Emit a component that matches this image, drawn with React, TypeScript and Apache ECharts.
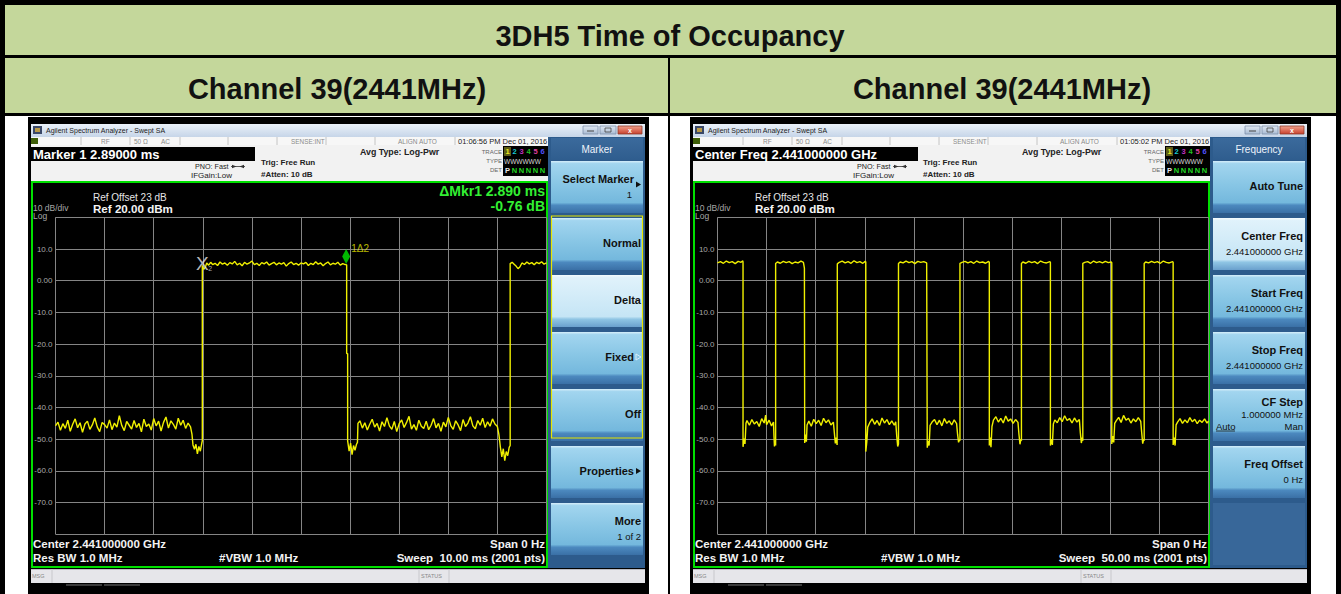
import React, { useEffect, useRef } from "react";
import * as echarts from "echarts";

const W = 1341;
const H = 594;
const FONT = '"Liberation Sans", Arial, Helvetica, sans-serif';

// ---------- texts ----------
const titleText = "3DH5 Time of Occupancy";
const channelLabels = ["Channel 39(2441MHz)", "Channel 39(2441MHz)"];

// ---------- axes ----------
const yTicks = [20, 10, 0, -10, -20, -30, -40, -50, -60, -70, -80];
const yTickLabels = ["", "10.0", "0.00", "-10.0", "-20.0", "-30.0", "-40.0", "-50.0", "-60.0", "-70.0", ""];
const sweepMs = [10, 50];
const xIntervals = [1, 5];

// ---------- traces (time ms, level dBm) ----------
const leftTrace: [number, number][] = [
  [0, -45.8], [0.05, -44.6], [0.1, -47.2], [0.15, -45.1], [0.2, -46.6], [0.25, -44.0], [0.3, -47.5], [0.35, -45.3], [0.4, -43.6], [0.45, -46.4],
  [0.5, -44.8], [0.55, -47.8], [0.6, -45.2], [0.65, -44.3], [0.7, -46.9], [0.75, -45.5], [0.8, -43.3], [0.85, -46.1], [0.9, -47.6], [0.95, -44.7],
  [1.0, -45.4], [1.05, -46.5], [1.1, -43.9], [1.15, -47.0], [1.2, -44.9], [1.25, -46.2], [1.3, -42.6], [1.35, -45.7], [1.4, -47.3], [1.45, -44.4],
  [1.5, -45.6], [1.55, -46.8], [1.6, -44.1], [1.65, -46.3], [1.7, -45.0], [1.75, -47.7], [1.8, -43.7], [1.85, -46.0], [1.9, -45.2], [1.95, -47.1],
  [2.0, -43.5], [2.05, -45.8], [2.1, -44.3], [2.15, -47.4], [2.2, -44.7], [2.25, -43.0], [2.3, -46.5], [2.35, -44.2], [2.4, -45.3], [2.45, -46.8],
  [2.5, -43.4], [2.55, -45.6], [2.6, -44.0], [2.65, -46.6], [2.7, -44.9], [2.75, -46.1],
  [2.78, -48.5], [2.8, -51.8], [2.83, -53.2], [2.86, -51.6], [2.89, -54.6], [2.92, -52.3], [2.95, -53.8], [2.98, -51.2],
  [2.99, -50.5], [2.99, 4.8],
  [3.02, 3.6], [3.05, 4.2], [3.08, 5.6], [3.12, 4.9], [3.16, 5.8], [3.2, 5.1], [3.25, 5.5], [3.3, 4.8], [3.35, 5.9], [3.4, 5.2],
  [3.45, 5.6], [3.5, 4.9], [3.55, 5.7], [3.6, 5.3], [3.65, 6.1], [3.7, 5.0], [3.75, 5.5], [3.8, 4.7], [3.85, 5.8], [3.9, 5.2],
  [3.95, 5.6], [4.0, 6.2], [4.05, 5.1], [4.1, 5.5], [4.15, 4.8], [4.2, 5.7], [4.25, 5.3], [4.3, 5.9], [4.35, 4.9], [4.4, 5.4],
  [4.45, 5.8], [4.5, 5.0], [4.55, 5.6], [4.6, 5.2], [4.65, 5.7], [4.7, 4.6], [4.75, 5.4], [4.8, 5.9], [4.85, 5.1], [4.9, 5.5],
  [4.95, 4.9], [5.0, 5.6], [5.05, 5.3], [5.1, 5.8], [5.15, 4.8], [5.2, 5.5], [5.25, 5.1], [5.3, 6.0], [5.35, 5.2], [5.4, 5.6],
  [5.45, 4.7], [5.5, 5.4], [5.55, 5.9], [5.6, 5.0], [5.65, 5.5], [5.7, 5.2], [5.75, 5.8], [5.8, 4.9], [5.85, 5.4], [5.9, 5.1],
  [5.93, 5.0], [5.93, -23.0], [5.95, -23.0], [5.95, -50.5],
  [5.98, -53.8], [6.01, -51.2], [6.04, -54.9], [6.07, -52.0], [6.1, -53.5], [6.13, -51.6], [6.15, -51.0], [6.16, -45.0],
  [6.2, -44.2], [6.25, -46.5], [6.3, -44.8], [6.35, -47.1], [6.4, -45.3], [6.45, -43.7], [6.5, -46.2], [6.55, -45.0], [6.6, -47.4], [6.65, -44.5],
  [6.7, -46.0], [6.75, -43.2], [6.8, -45.8], [6.85, -46.9], [6.9, -44.4], [6.95, -47.6], [7.0, -45.1], [7.05, -43.9], [7.1, -46.3], [7.15, -44.7],
  [7.2, -42.8], [7.25, -46.8], [7.3, -45.4], [7.35, -47.2], [7.4, -44.0], [7.45, -45.9], [7.5, -46.6], [7.55, -44.3], [7.6, -47.0], [7.65, -45.6],
  [7.7, -43.5], [7.75, -46.4], [7.8, -45.0], [7.85, -47.5], [7.9, -44.6], [7.95, -46.1], [8.0, -43.1], [8.05, -45.7], [8.1, -46.9], [8.15, -44.2],
  [8.2, -45.5], [8.25, -47.3], [8.3, -43.8], [8.35, -46.0], [8.4, -44.9], [8.45, -42.9], [8.5, -45.8], [8.55, -46.7], [8.6, -44.1], [8.65, -45.6],
  [8.7, -43.4], [8.75, -46.3], [8.8, -44.5], [8.85, -45.9], [8.9, -43.6], [8.95, -45.2], [9.0, -46.0],
  [9.03, -48.5], [9.06, -52.4], [9.09, -55.6], [9.12, -53.0], [9.15, -56.8], [9.18, -53.9], [9.21, -55.2], [9.24, -52.6],
  [9.26, -52.0], [9.26, 5.4],
  [9.3, 5.8], [9.34, 5.2], [9.38, 4.6], [9.42, 3.8], [9.46, 4.4], [9.5, 5.6], [9.55, 5.1], [9.6, 5.9], [9.65, 5.3], [9.7, 5.7],
  [9.75, 5.0], [9.8, 5.8], [9.85, 5.4], [9.9, 6.0], [9.95, 5.2], [10.0, 5.6],
];

const rightTrace: [number, number][] = [
  [0, 5.6], [0.3, 6.0], [0.6, 5.5], [0.9, 6.2], [1.2, 5.7], [1.5, 6.0], [1.8, 5.4], [2.1, 6.1], [2.4, 5.8], [2.58, 6.3],
  [2.6, 5.8], [2.6, -52.4], [2.7, -49.8], [2.8, -51.5], [2.9, -45.0],
  [3.0, -44.1], [3.25, -45.6], [3.5, -43.8], [3.75, -45.2], [4.0, -44.4], [4.25, -46.0], [4.5, -43.5], [4.75, -44.9], [4.9, -42.4], [5.0, -45.4],
  [5.25, -44.0], [5.5, -45.8], [5.7, -44.6], [5.75, -49.0], [5.8, -52.3], [5.88, -50.5], [5.92, -52.0], [5.92, 5.4],
  [6.1, 5.9], [6.4, 5.5], [6.7, 6.1], [7.0, 5.7], [7.3, 6.0], [7.6, 5.4], [7.9, 5.9], [8.2, 5.6], [8.5, 6.2], [8.75, 5.8], [8.85, 4.0],
  [8.88, 4.0], [8.88, -51.2], [8.95, -48.5], [9.05, -50.8], [9.12, -45.5],
  [9.3, -44.3], [9.55, -45.9], [9.8, -43.7], [10.05, -45.1], [10.3, -44.0], [10.55, -45.7], [10.8, -43.4], [11.05, -44.8], [11.3, -43.9], [11.55, -45.5], [11.8, -44.6],
  [11.9, -48.0], [12.0, -51.3], [12.1, -49.5], [12.18, -51.8], [12.2, -51.8], [12.2, 5.3],
  [12.4, 5.8], [12.7, 6.2], [13.0, 5.6], [13.3, 6.0], [13.6, 5.5], [13.9, 6.3], [14.2, 5.7], [14.5, 6.0], [14.8, 5.5], [15.05, 6.1],
  [15.1, 5.9], [15.1, -53.9], [15.2, -51.0], [15.3, -46.2],
  [15.5, -44.8], [15.75, -43.6], [16.0, -45.3], [16.25, -44.1], [16.5, -45.7], [16.75, -43.3], [17.0, -44.9], [17.25, -43.8], [17.5, -45.4], [17.75, -44.2], [18.0, -45.6], [18.15, -44.5],
  [18.25, -49.0], [18.35, -52.3], [18.43, -51.5], [18.43, 5.4],
  [18.6, 5.9], [18.9, 5.6], [19.2, 6.2], [19.5, 5.7], [19.8, 6.0], [20.1, 5.4], [20.4, 6.1], [20.7, 5.8], [21.0, 6.0], [21.3, 5.6],
  [21.36, 5.6], [21.36, -52.7], [21.45, -50.6], [21.55, -52.0], [21.65, -45.6],
  [21.85, -44.6], [22.1, -43.8], [22.35, -45.4], [22.6, -44.0], [22.85, -45.8], [23.1, -43.5], [23.35, -45.0], [23.6, -44.2], [23.85, -45.5], [24.1, -43.9], [24.35, -45.1],
  [24.45, -48.5], [24.55, -51.0], [24.65, -50.2], [24.69, -50.5], [24.69, 5.5],
  [24.9, 5.8], [25.2, 6.1], [25.5, 5.6], [25.8, 6.0], [26.1, 5.5], [26.4, 6.2], [26.7, 5.7], [27.0, 5.9], [27.3, 5.5], [27.6, 6.1],
  [27.68, 5.8], [27.68, -52.0], [27.75, -49.5], [27.85, -52.5], [27.95, -46.0],
  [28.1, -44.0], [28.35, -42.9], [28.6, -44.6], [28.85, -43.4], [29.1, -44.9], [29.35, -42.7], [29.6, -44.3], [29.85, -43.6], [30.1, -45.0], [30.35, -43.8], [30.6, -44.7],
  [30.7, -48.5], [30.8, -51.6], [30.9, -50.0], [30.95, -50.5], [30.95, 5.4],
  [31.1, 5.9], [31.4, 5.5], [31.7, 6.1], [32.0, 5.7], [32.3, 6.0], [32.6, 5.4], [32.9, 6.2], [33.2, 5.8], [33.5, 5.6], [33.85, 6.0],
  [33.9, 5.8], [33.9, -52.0], [34.0, -50.0], [34.1, -51.8], [34.2, -45.2],
  [34.35, -43.9], [34.6, -44.8], [34.85, -43.2], [35.1, -44.5], [35.35, -42.6], [35.6, -44.1], [35.85, -43.5], [36.1, -44.9], [36.35, -43.3], [36.6, -44.6], [36.85, -43.8],
  [36.95, -48.0], [37.05, -51.2], [37.15, -49.5], [37.2, -50.5], [37.2, 5.5],
  [37.4, 5.8], [37.7, 6.0], [38.0, 5.5], [38.3, 6.2], [38.6, 5.7], [38.9, 6.0], [39.2, 5.6], [39.5, 6.1], [39.8, 5.7], [40.1, 5.9],
  [40.15, 5.7], [40.15, -51.5], [40.25, -49.0], [40.35, -51.0], [40.45, -45.0],
  [40.6, -44.2], [40.85, -43.1], [41.1, -44.7], [41.35, -42.5], [41.6, -44.0], [41.85, -43.4], [42.1, -44.9], [42.35, -43.6], [42.6, -44.5], [42.85, -43.2], [43.1, -44.4],
  [43.2, -48.0], [43.3, -51.4], [43.4, -50.0], [43.45, -50.5], [43.45, 5.4],
  [43.6, 5.9], [43.9, 5.6], [44.2, 6.1], [44.5, 5.7], [44.8, 6.0], [45.1, 5.5], [45.4, 6.2], [45.7, 5.8], [46.0, 5.6], [46.35, 6.0],
  [46.4, 5.8], [46.4, -51.8], [46.5, -49.5], [46.6, -52.0], [46.7, -45.5],
  [46.85, -44.6], [47.1, -43.5], [47.35, -45.0], [47.6, -43.9], [47.85, -44.8], [48.1, -43.2], [48.35, -44.5], [48.6, -43.7], [48.85, -45.1], [49.1, -44.0],
  [49.35, -44.7], [49.6, -43.6], [49.85, -44.9], [50.0, -44.3],
];

// markers (left screen)
const marker2Pos: [number, number][] = [[2.99, 5.4]];
const marker1Pos: [number, number][] = [[5.92, 5.3]];

// ---------- screen texts ----------
type Key = { label: string; sub?: string; selected?: boolean; arrow?: "solid" | "hollow"; autoMan?: boolean };
type Screen = {
  dx: number;
  active: string;
  activeBox: number;
  date: string;
  sweep: string;
  panel: string;
  keys: Key[];
  delta?: [string, string];
  group?: boolean;
};

const screens: Screen[] = [
  {
    dx: 0,
    active: "Marker 1 2.89000 ms",
    activeBox: 224,
    date: "01:06:56 PM Dec 01, 2016",
    sweep: "Sweep  10.00 ms (2001 pts)",
    panel: "Marker",
    delta: ["\u0394Mkr1 2.890 ms", "-0.76 dB"],
    group: true,
    keys: [
      { label: "Select Marker", sub: "1", arrow: "solid" },
      { label: "Normal" },
      { label: "Delta", selected: true },
      { label: "Fixed", arrow: "hollow" },
      { label: "Off" },
      { label: "Properties", arrow: "solid" },
      { label: "More", sub: "1 of 2" },
    ],
  },
  {
    dx: 662,
    active: "Center Freq 2.441000000 GHz",
    activeBox: 225,
    date: "01:05:02 PM Dec 01, 2016",
    sweep: "Sweep  50.00 ms (2001 pts)",
    panel: "Frequency",
    keys: [
      { label: "Auto Tune" },
      { label: "Center Freq", sub: "2.441000000 GHz", selected: true },
      { label: "Start Freq", sub: "2.441000000 GHz" },
      { label: "Stop Freq", sub: "2.441000000 GHz" },
      { label: "CF Step", sub: "1.000000 MHz", autoMan: true },
      { label: "Freq Offset", sub: "0 Hz" },
    ],
  },
];

function lg(stops: [number, string][]) {
  return new echarts.graphic.LinearGradient(0, 0, 0, 1, stops.map(([offset, color]) => ({ offset, color })));
}

function text(x: number, y: number, t: string, size: number, fill: string, weight = "normal", align = "left", z = 10) {
  return {
    type: "text",
    z,
    silent: true,
    x,
    y,
    style: {
      text: t,
      fill,
      font: `${weight} ${size}px ${FONT}`,
      textAlign: align,
      align,
      textVerticalAlign: "middle",
      verticalAlign: "middle",
    },
  };
}

function rect(x: number, y: number, w: number, h: number, fill: any, z = -1, stroke?: string, lw?: number) {
  const style: any = { fill };
  if (stroke) {
    style.stroke = stroke;
    style.lineWidth = lw ?? 1;
  }
  return { type: "rect", z, silent: true, shape: { x, y, width: w, height: h }, style };
}

function line(x1: number, y1: number, x2: number, y2: number, stroke: string, lw = 1, z = -1) {
  return { type: "line", z, silent: true, shape: { x1, y1, x2, y2 }, style: { stroke, lineWidth: lw } };
}

function poly(points: number[][], fill: string, z = 10, stroke?: string) {
  const style: any = { fill };
  if (stroke) {
    style.stroke = stroke;
    style.lineWidth = 1;
  }
  return { type: "polygon", z, silent: true, shape: { points }, style };
}

function buildScreen(s: Screen): any[] {
  const d = s.dx;
  const e: any[] = [];
  // frame
  e.push(rect(28 + d, 117, 621, 477, "#000"));
  // title bar
  e.push(rect(31 + d, 124, 614, 13, lg([[0, "#eaf1f9"], [1, "#c6d5e8"]])));
  e.push(rect(33 + d, 126, 9, 8, "#3a4868"));
  e.push(rect(35 + d, 128, 5, 4, "#b89a48"));
  e.push(text(46 + d, 130.5, "Agilent Spectrum Analyzer - Swept SA", 7, "#1c1c1c"));
  e.push(rect(583 + d, 126, 15, 8, lg([[0, "#dfe7f2"], [1, "#a9bbd3"]]), -1, "#7d8fab", 0.8));
  e.push(rect(600 + d, 126, 16, 8, lg([[0, "#dfe7f2"], [1, "#a9bbd3"]]), -1, "#7d8fab", 0.8));
  e.push(rect(618 + d, 126, 24, 8, lg([[0, "#f0a08c"], [1, "#c8412e"]]), -1, "#8e3a2c", 0.8));
  e.push(line(587 + d, 131, 594 + d, 131, "#444", 1, 0));
  e.push(rect(605 + d, 128, 6, 4, "none", 0, "#444", 0.8));
  e.push(text(630 + d, 130, "x", 7, "#fff", "bold", "center"));
  // status row
  e.push(rect(31 + d, 137, 517, 8, "#f7f7f7"));
  e.push(rect(31 + d, 138, 7, 6, "#3e5e08"));
  [81, 130, 180, 228, 277, 326, 375, 455].forEach((x) => e.push(line(x + d, 137, x + d, 145, "#c4c4c4")));
  e.push(text(101 + d, 141.5, "RF", 6.5, "#8a8a8a"));
  e.push(text(134 + d, 141.5, "50 \u03a9", 6.5, "#8a8a8a"));
  e.push(text(161 + d, 141.5, "AC", 6.5, "#8a8a8a"));
  e.push(text(291 + d, 141.5, "SENSE:INT", 6.4, "#8a8a8a"));
  e.push(text(398 + d, 141.5, "ALIGN AUTO", 6.5, "#8a8a8a"));
  e.push(text(458 + d, 141.5, s.date, 7.5, "#222"));
  // header area
  e.push(rect(31 + d, 145, 517, 37, "#f2f2f2"));
  e.push(rect(31 + d, 147, s.activeBox, 14, "#000"));
  e.push(text(33 + d, 154.5, s.active, 13, "#fff", "bold"));
  e.push(text(195 + d, 166.5, "PNO: Fast", 7.2, "#222"));
  e.push(text(191 + d, 175.5, "IFGain:Low", 8, "#222"));
  e.push(line(231 + d, 166.5, 245 + d, 166.5, "#333", 0.8, 0));
  e.push(poly([[232 + d, 164.8], [236.5 + d, 166.5], [232 + d, 168.2]], "#333", 1));
  e.push(poly([[244 + d, 164.8], [239.5 + d, 166.5], [244 + d, 168.2]], "#333", 1));
  e.push(text(261 + d, 162.5, "Trig: Free Run", 8, "#222", "bold"));
  e.push(text(261 + d, 174, "#Atten: 10 dB", 8, "#222", "bold"));
  e.push(text(360 + d, 151.5, "Avg Type: Log-Pwr", 8.8, "#222", "bold"));
  // trace box
  e.push(text(502 + d, 151.5, "TRACE", 6, "#666", "normal", "right"));
  e.push(text(502 + d, 161, "TYPE", 6, "#666", "normal", "right"));
  e.push(text(502 + d, 170, "DET", 6, "#666", "normal", "right"));
  e.push(rect(503 + d, 146, 45, 30, "#000"));
  e.push(rect(504 + d, 147, 7, 9, "#5b5b16"));
  const tc = ["#e8e820", "#19c8d2", "#c030c0", "#22c022", "#e040a0", "#5050ff"];
  tc.forEach((c, i) => e.push(text(507.5 + d + i * 7, 151.5, String(i + 1), 7.5, c, "bold", "center")));
  e.push(text(504 + d, 161, "WWWWWW", 6.5, "#d8d8d8"));
  e.push(text(507.5 + d, 170.5, "P", 7.5, "#e8e8e8", "bold", "center"));
  for (let i = 1; i < 6; i++) e.push(text(507.5 + d + i * 7, 170.5, "N", 7.5, "#22d822", "bold", "center"));

  // plot area
  e.push(rect(32 + d, 182, 515, 385, "#000", -1, "#00e000", 2));
  e.push(text(93 + d, 197.5, "Ref Offset 23 dB", 10, "#e6e6e6"));
  e.push(text(93 + d, 208, "Ref 20.00 dBm", 11.6, "#f4f4f4", "bold"));
  e.push(text(33 + d, 207.5, "10 dB/div", 8.5, "#a8a8a8"));
  e.push(text(33 + d, 215.5, "Log", 8.5, "#a8a8a8"));
  if (s.delta) {
    e.push(text(545 + d, 190.5, s.delta[0], 14, "#33f033", "bold", "right"));
    e.push(text(545 + d, 205.5, s.delta[1], 14, "#33f033", "bold", "right"));
  }
  e.push(text(33 + d, 543.5, "Center 2.441000000 GHz", 11.5, "#f2f2f2", "bold"));
  e.push(text(33 + d, 557.5, "Res BW 1.0 MHz", 11.5, "#f2f2f2", "bold"));
  e.push(text(219 + d, 557.5, "#VBW 1.0 MHz", 11.5, "#f2f2f2", "bold"));
  e.push(text(545 + d, 543.5, "Span 0 Hz", 11.5, "#f2f2f2", "bold", "right"));
  e.push(text(545 + d, 557.5, s.sweep, 11.5, "#f2f2f2", "bold", "right"));

  // MSG bar
  e.push(rect(31 + d, 569, 614, 14, "#e6e6ea"));
  e.push(line(31 + d, 569.5, 645 + d, 569.5, "#bdbdc4"));
  e.push(line(52 + d, 569, 52 + d, 583, "#c8c8cc"));
  e.push(line(419 + d, 569, 419 + d, 583, "#c8c8cc"));
  e.push(line(449 + d, 569, 449 + d, 583, "#c8c8cc"));
  e.push(text(32 + d, 576, "MSG", 5.5, "#888"));
  e.push(text(421 + d, 576, "STATUS", 5.5, "#888"));
  e.push(rect(66 + d, 584, 36, 2, "#3a3a3a"));
  e.push(rect(104 + d, 584, 36, 2, "#3a3a3a"));

  // softkey panel
  e.push(rect(548 + d, 137, 97, 431, "#2d5b8c"));
  e.push(rect(551 + d, 138, 92, 22, lg([[0, "#3b6a9c"], [1, "#2f5d8e"]])));
  e.push(text(597 + d, 149, s.panel, 10, "#eef4fb", "normal", "center"));
  const normalFill = () =>
    lg([[0, "#d6eefa"], [0.05, "#a2d5ef"], [0.45, "#88c6e5"], [0.8, "#74b8dd"], [0.85, "#4c89bf"], [1, "#3a70a6"]]);
  const selFill = () =>
    lg([[0, "#f4fbfe"], [0.05, "#e0f2fb"], [0.8, "#c5e5f5"], [0.85, "#8fc5e4"], [1, "#6aa0cd"]]);
  s.keys.forEach((k, i) => {
    const top = 161 + 57 * i;
    e.push(rect(551 + d, top, 92, 52, k.selected ? selFill() : normalFill()));
    const rx = 641 + d;
    const ax = k.arrow ? rx - 7 : rx;
    if (k.autoMan) {
      e.push(text(rx, top + 13, k.label, 11, "#111", "bold", "right"));
      e.push(text(rx, top + 25, k.sub!, 9.5, "#111", "normal", "right"));
      e.push(text(554 + d, top + 37, "Auto", 9.5, "#111"));
      e.push(line(554 + d, top + 42, 573 + d, top + 42, "#111", 0.8, 10));
      e.push(text(rx, top + 37, "Man", 9.5, "#111", "normal", "right"));
    } else if (k.sub) {
      e.push(text(ax, top + 18, k.label, 11, "#111", "bold", "right"));
      e.push(text(rx - (k.arrow ? 9 : 0), top + 33, k.sub, 9.5, "#111", "normal", "right"));
    } else {
      e.push(text(ax, top + 25, k.label, 11, "#111", "bold", "right"));
    }
    if (k.arrow === "solid") {
      const cy = k.sub ? top + 23.5 : top + 25;
      e.push(poly([[636 + d, cy - 3], [641 + d, cy], [636 + d, cy + 3]], "#111"));
    } else if (k.arrow === "hollow") {
      const cy = top + 25;
      e.push(poly([[636 + d, cy - 3], [641 + d, cy], [636 + d, cy + 3]], "none", 10, "#d8ecf7"));
    }
  });
  if (s.keys.length < 7) {
    const top = 161 + 57 * s.keys.length;
    e.push(rect(551 + d, top, 92, 565 - top, "#386799"));
  }
  if (s.group) {
    e.push(rect(551.5 + d, 216, 91, 222, "none", 5, "#e6e600", 1.2));
  }
  return e;
}

function buildOption() {
  const g: any[] = [];
  // table
  g.push(rect(0, 0, W, H, "#ffffff", -3));
  g.push(rect(5, 5, 1331, 50, "#c4d79b", -2));
  g.push(rect(5, 58, 1331, 55, "#c4d79b", -2));
  g.push(rect(0, 0, W, 5, "#000", -2));
  g.push(rect(0, 0, 5, H, "#000", -2));
  g.push(rect(1336, 0, 5, H, "#000", -2));
  g.push(rect(0, 55, W, 3, "#000", -2));
  g.push(rect(0, 113, W, 3, "#000", -2));
  g.push(rect(668, 58, 2, H - 58, "#000", -2));
  g.push(text(670, 36, titleText, 29, "#111", "bold", "center"));
  g.push(text(337, 89, channelLabels[0], 29, "#111", "bold", "center"));
  g.push(text(1002, 89, channelLabels[1], 29, "#111", "bold", "center"));
  screens.forEach((s) => g.push(...buildScreen(s)));

  const grids = screens.map((s) => ({ left: 55.5 + s.dx, top: 217.3, width: 491, height: 317, show: false }));
  const xAxis = sweepMs.map((max, i) => ({
    type: "value",
    gridIndex: i,
    min: 0,
    max,
    interval: xIntervals[i],
    axisLine: { show: false },
    axisTick: { show: false },
    axisLabel: { show: false },
    splitLine: { show: true, lineStyle: { color: "#858585", width: 1 } },
  }));
  const yAxis = sweepMs.map((_, i) => ({
    type: "value",
    gridIndex: i,
    min: -80,
    max: 20,
    interval: 10,
    axisLine: { show: false },
    axisTick: { show: false },
    axisLabel: {
      show: true,
      margin: 3,
      color: "#a8a8a8",
      fontSize: 8,
      fontFamily: FONT,
      formatter: (v: number) => {
        const k = yTicks.indexOf(Math.round(v));
        return k >= 0 ? yTickLabels[k] : "";
      },
    },
    splitLine: { show: true, lineStyle: { color: "#858585", width: 1 } },
  }));
  const traceStyle = { color: "#f0f000", width: 1.4 };
  const transparent = { color: "rgba(0,0,0,0)" };
  return {
    animation: false,
    backgroundColor: "#ffffff",
    graphic: { elements: g },
    grid: grids,
    xAxis,
    yAxis,
    series: [
      { type: "line", name: "Trace 1 (10 ms)", xAxisIndex: 0, yAxisIndex: 0, data: leftTrace, showSymbol: false, symbol: "none", lineStyle: traceStyle, z: 3, silent: true },
      { type: "line", name: "Trace 1 (50 ms)", xAxisIndex: 1, yAxisIndex: 1, data: rightTrace, showSymbol: false, symbol: "none", lineStyle: traceStyle, z: 3, silent: true },
      {
        type: "scatter", xAxisIndex: 0, yAxisIndex: 0, data: marker2Pos, symbolSize: 1, itemStyle: transparent, z: 6, silent: true,
        label: { show: true, position: "inside", formatter: "X", color: "#e8e8e8", fontSize: 19, fontFamily: FONT },
      },
      {
        type: "scatter", xAxisIndex: 0, yAxisIndex: 0, data: marker2Pos, symbolSize: 1, itemStyle: transparent, z: 6, silent: true,
        label: { show: true, position: "inside", offset: [8, 5], formatter: "2", color: "#d8d8d8", fontSize: 7, fontFamily: FONT },
      },
      {
        type: "scatter", xAxisIndex: 0, yAxisIndex: 0, data: marker1Pos, symbol: "diamond", symbolSize: [8, 15], symbolOffset: [0, -7.5],
        itemStyle: { color: "#00e600" }, z: 6, silent: true,
      },
      {
        type: "scatter", xAxisIndex: 0, yAxisIndex: 0, data: marker1Pos, symbolSize: 1, itemStyle: transparent, z: 6, silent: true,
        label: { show: true, position: "inside", offset: [14, -15], formatter: "1\u03942", color: "#e6e600", fontSize: 10, fontFamily: FONT },
      },
    ],
  };
}

export default function App() {
  const ref = useRef<HTMLDivElement>(null);
  useEffect(() => {
    if (!ref.current) return;
    const chart = echarts.init(ref.current, undefined, { renderer: "svg", width: W, height: H });
    chart.setOption(buildOption() as any);
    return () => chart.dispose();
  }, []);
  return <div ref={ref} style={{ position: "absolute", left: 0, top: 0, width: W, height: H }} />;
}
